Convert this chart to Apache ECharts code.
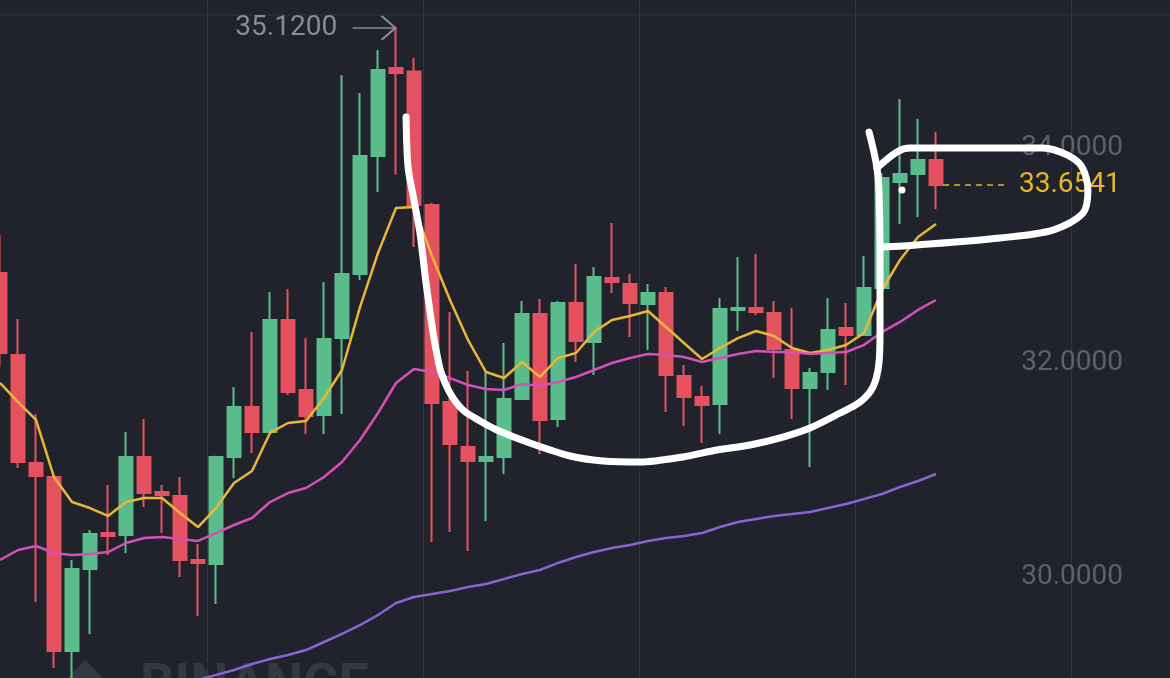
<!DOCTYPE html>
<html>
<head>
<meta charset="utf-8">
<title>K线图</title>
<script src="https://cdn.jsdelivr.net/npm/echarts@6/dist/echarts.min.js"></script>
<style>
html,body{margin:0;padding:0;background:#20232b;}
#chartmain{width:1170px;height:678px;}
</style>
</head>
<body>
<div id="chartmain"></div>
<script>
// K线数据 [开, 收, 低, 高]
var kData = [
    [32.834, 32.089, 31.958, 33.189],
    [32.070, 31.072, 31.016, 32.406],
    [31.063, 30.942, 29.767, 31.520],
    [30.932, 29.310, 29.151, 30.940],
    [29.310, 30.075, 28.946, 30.158],
    [30.075, 30.401, 29.469, 30.438],
    [30.410, 30.382, 30.205, 30.858],
    [30.392, 31.119, 30.224, 31.352],
    [31.119, 30.783, 30.653, 31.473],
    [30.792, 30.765, 30.410, 30.858],
    [30.755, 30.158, 30.000, 30.932],
    [30.158, 30.130, 29.636, 30.308],
    [30.121, 31.119, 29.748, 31.130],
    [31.119, 31.585, 30.923, 31.772],
    [31.585, 31.352, 31.156, 32.284],
    [31.352, 32.396, 31.340, 32.657],
    [32.396, 31.725, 31.697, 32.685],
    [31.744, 31.501, 31.333, 32.228],
    [31.510, 32.219, 31.333, 32.751],
    [32.228, 32.825, 31.520, 34.681],
    [32.825, 33.925, 32.769, 34.513],
    [33.925, 34.727, 33.590, 34.914],
    [34.746, 34.699, 33.753, 35.120],
    [34.713, 33.469, 33.077, 34.839],
    [33.469, 31.622, 30.326, 33.490],
    [31.632, 31.240, 30.420, 32.471],
    [31.212, 31.082, 30.242, 31.921],
    [31.082, 31.119, 30.522, 31.911],
    [31.119, 31.660, 30.960, 32.182],
    [31.660, 32.452, 31.650, 32.573],
    [32.452, 31.464, 31.147, 32.592],
    [31.473, 32.555, 31.399, 32.573],
    [32.555, 32.200, 32.005, 32.918],
    [32.191, 32.797, 31.883, 32.890],
    [32.788, 32.751, 32.648, 33.301],
    [32.732, 32.555, 32.238, 32.825],
    [32.545, 32.648, 32.117, 32.732],
    [32.648, 31.883, 31.538, 32.704],
    [31.874, 31.678, 31.408, 31.977],
    [31.678, 31.604, 31.249, 31.781],
    [31.613, 32.499, 31.333, 32.601],
    [32.489, 32.508, 32.294, 32.984],
    [32.508, 32.471, 32.443, 33.012],
    [32.462, 32.126, 31.855, 32.573],
    [32.117, 31.762, 31.473, 32.508],
    [31.762, 31.902, 31.026, 31.949],
    [31.911, 32.303, 31.744, 32.601],
    [32.322, 32.256, 31.790, 32.555],
    [32.256, 32.695, 32.250, 32.993],
    [32.695, 33.720, 32.676, 33.767],
    [33.683, 33.758, 33.291, 34.457],
    [33.758, 33.888, 33.357, 34.270],
    [33.888, 33.654, 33.431, 34.149]
];
// 均线
var ma7 = [31.809, 31.632, 31.464, 30.932, 30.699, 30.643, 30.569, 30.699, 30.737, 30.737,
    30.597, 30.466, 30.643, 30.876, 30.988, 31.343, 31.436, 31.455, 31.669, 31.930,
    32.517, 33.021, 33.441, 33.450, 32.993, 32.583, 32.210, 31.911, 31.855, 32.005,
    31.865, 32.042, 32.089, 32.284, 32.396, 32.434, 32.480, 32.331, 32.182, 32.033,
    32.135, 32.228, 32.294, 32.247, 32.135, 32.089, 32.117, 32.163, 32.275, 32.676,
    32.956, 33.170, 33.291];
var ma25 = [30.159, 30.252, 30.289, 30.224, 30.205, 30.214, 30.233, 30.317, 30.364, 30.373,
    30.354, 30.336, 30.410, 30.485, 30.550, 30.699, 30.783, 30.830, 30.932, 31.072,
    31.277, 31.529, 31.809, 31.939, 31.911, 31.855, 31.790, 31.753, 31.744, 31.800,
    31.781, 31.818, 31.865, 31.930, 31.995, 32.042, 32.079, 32.070, 32.051, 32.005,
    32.042, 32.079, 32.107, 32.098, 32.098, 32.079, 32.089, 32.098, 32.163, 32.284,
    32.378, 32.490, 32.583];
var ma99 = [null, null, null, null, null, null, null, null, null, null,
    null, 29.040, 29.086, 29.133, 29.189, 29.235, 29.273, 29.319, 29.394, 29.469,
    29.552, 29.646, 29.758, 29.814, 29.841, 29.869, 29.907, 29.935, 29.981, 30.028,
    30.065, 30.131, 30.186, 30.233, 30.270, 30.298, 30.336, 30.364, 30.382, 30.410,
    30.466, 30.513, 30.541, 30.569, 30.587, 30.606, 30.643, 30.681, 30.727, 30.774,
    30.839, 30.895, 30.960];
var highPrice = 35.12;
var lastPrice = 33.6541;
var yMin = 28, yMax = 36, yStep = 2;

// 手绘的杯柄线 [x(K线序号), 价格]
var cupLine = [[22.56, 34.289], [22.67, 33.823], [23.0, 33.515], [23.33, 33.207], [23.67, 32.741],
    [24.06, 32.275], [24.28, 32.070], [24.5, 31.911], [25.0, 31.716], [25.72, 31.557],
    [26.67, 31.455], [27.61, 31.371], [29.44, 31.249], [31.67, 31.128], [33.5, 31.082],
    [35.56, 31.072], [37.94, 31.119], [39.83, 31.184], [41.67, 31.231], [43.5, 31.305],
    [45.0, 31.389], [46.67, 31.529], [47.78, 31.632], [48.5, 31.772], [48.83, 31.995],
    [48.89, 32.303], [48.89, 33.049], [48.83, 33.608], [48.72, 33.814], [48.5, 34.0],
    [48.28, 34.149]];
var handleLine = [[48.72, 33.814], [49.83, 33.963], [50.56, 34.0], [55.56, 34.0], [57.94, 34.0],
    [59.28, 33.935], [60.11, 33.823], [60.44, 33.608], [60.17, 33.394], [58.5, 33.235],
    [55.56, 33.161], [50.94, 33.096], [49.0, 33.077]];
var dotPoint = [[50.11, 33.608]];
var priceLine = [[52.39, lastPrice], [55.83, lastPrice]];

var categories = [];
for (var i = 0; i < 66; i++) {
    categories.push(String(i));
}

var myChart = echarts.init(document.getElementById('chartmain'));
var option = {
    backgroundColor: '#20232b',
    animation: false,
    grid: {left: -9, right: -9, top: -66.5, bottom: -113.5, outerBoundsMode: 'none', containLabel: false},
    xAxis: [
        {
            type: 'category',
            data: categories,
            boundaryGap: true,
            axisLine: {show: false},
            axisTick: {show: false},
            axisLabel: {show: false},
            splitLine: {
                show: true,
                interval: function (idx) { return idx > 0 && idx % 12 === 0; },
                lineStyle: {color: '#30343d', width: 1}
            }
        },
        {
            type: 'value',
            min: -0.5,
            max: 65.5,
            show: false
        }
    ],
    yAxis: {
        type: 'value',
        position: 'right',
        min: yMin,
        max: yMax,
        interval: yStep,
        axisLine: {show: false},
        axisTick: {show: false},
        splitLine: {show: false},
        axisLabel: {
            inside: true,
            margin: 56,
            fontSize: 28,
            fontFamily: 'Roboto',
            color: '#5c616a',
            padding: [10, 0, 0, 0],
            formatter: function (v) { return v.toFixed(4); }
        }
    },
    graphic: [
        {
            type: 'line',
            shape: {x1: 0, y1: 15, x2: 1170, y2: 15},
            style: {stroke: '#30343d', lineWidth: 1},
            silent: true
        },
        {
            type: 'text',
            left: 140,
            top: 660,
            style: {text: 'BINANCE', fontSize: 54, fontWeight: 'bold', fontFamily: 'Roboto', fill: '#353841'},
            silent: true
        },
        {
            type: 'polygon',
            shape: {points: [[85, 660], [105, 680], [65, 680]]},
            style: {fill: '#353841'},
            silent: true
        }
    ],
    series: [
        {
            name: 'K',
            type: 'candlestick',
            data: kData,
            barWidth: 13,
            z: 2,
            itemStyle: {
                color: '#5bbd8b',
                color0: '#e5525f',
                borderColor: '#5bbd8b',
                borderColor0: '#e5525f',
                borderWidth: 2
            },
            markPoint: {
                symbol: 'path://M0,12 L43,12 M29,0 L43,12 L29,24',
                symbolSize: [43, 24],
                symbolOffset: [-22, 0],
                itemStyle: {color: 'rgba(0,0,0,0)', borderColor: '#868b94', borderWidth: 2},
                label: {
                    show: true,
                    position: 'left',
                    distance: 14,
                    fontSize: 28,
                    fontFamily: 'Roboto',
                    color: '#868b94',
                    padding: [6, 0, 0, 0],
                    formatter: function () { return highPrice.toFixed(4); }
                },
                data: [{coord: [22, highPrice], value: highPrice}]
            }
        },
        {
            name: 'MA7', type: 'line', data: ma7, symbol: 'none', z: 3,
            lineStyle: {color: '#e7b63a', width: 2.5}
        },
        {
            name: 'MA25', type: 'line', data: ma25, symbol: 'none', z: 3,
            lineStyle: {color: '#d54fbb', width: 2.5}
        },
        {
            name: 'MA99', type: 'line', data: ma99, symbol: 'none', z: 3,
            lineStyle: {color: '#8a62d2', width: 2.5}
        },
        {
            name: 'last', type: 'line', xAxisIndex: 1, data: priceLine, symbol: 'none', z: 4,
            lineStyle: {color: '#e2b52c', width: 1.5, type: [6, 5]},
            endLabel: {
                show: true,
                distance: 14,
                fontSize: 28,
                fontFamily: 'Roboto',
                color: '#e6b62a',
                padding: [5, 0, 0, 0],
                formatter: function () { return lastPrice.toFixed(4); }
            }
        },
        {
            name: 'cup', type: 'line', xAxisIndex: 1, data: cupLine, symbol: 'none', smooth: 0.3, z: 5,
            lineStyle: {color: '#ffffff', width: 7, cap: 'round', join: 'round'}
        },
        {
            name: 'handle', type: 'line', xAxisIndex: 1, data: handleLine, symbol: 'none', smooth: 0.3, z: 5,
            lineStyle: {color: '#ffffff', width: 7, cap: 'round', join: 'round'}
        },
        {
            name: 'dot', type: 'scatter', xAxisIndex: 1, data: dotPoint, symbolSize: 7, z: 5,
            itemStyle: {color: '#ffffff', opacity: 1}
        }
    ]
};
myChart.setOption(option);
</script>
</body>
</html>
